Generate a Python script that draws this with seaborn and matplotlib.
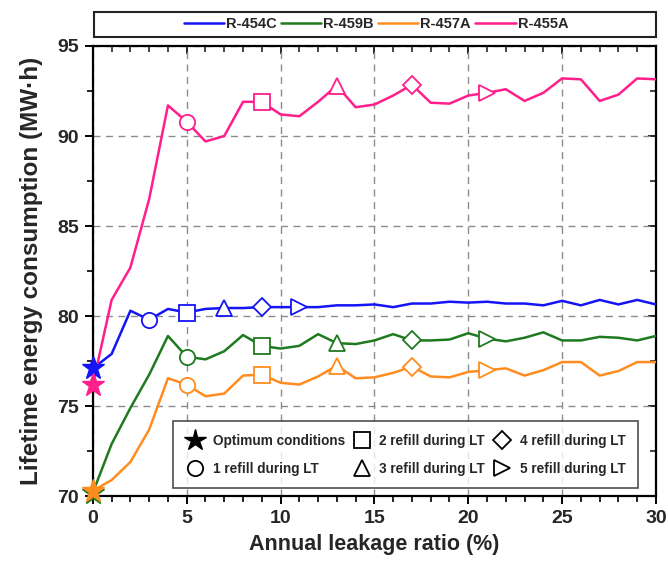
import numpy as np
import pandas as pd
import matplotlib
matplotlib.use("Agg")
import matplotlib.pyplot as plt
from matplotlib.lines import Line2D
from matplotlib.patches import Rectangle
from matplotlib.ticker import MultipleLocator
import seaborn as sns

# ---------------- data ----------------
leak = list(range(31))
r454c = [77.1, 77.9, 80.3, 79.8, 80.4, 80.2, 80.4, 80.45, 80.45, 80.5, 80.5, 80.5, 80.5, 80.6, 80.6,
         80.65, 80.5, 80.7, 80.7, 80.8, 80.75, 80.8, 80.7, 80.7, 80.6, 80.85, 80.6, 80.9, 80.65, 80.9, 80.65]
r459b = [70.2, 72.9, 74.9, 76.75, 78.9, 77.75, 77.6, 78.05, 78.95, 78.35, 78.2, 78.35, 79.0, 78.5, 78.45,
         78.65, 79.0, 78.65, 78.65, 78.7, 79.05, 78.75, 78.6, 78.8, 79.1, 78.65, 78.65, 78.85, 78.8, 78.65, 78.9]
r457a = [70.3, 70.9, 71.9, 73.7, 76.55, 76.2, 75.55, 75.7, 76.7, 76.75, 76.3, 76.2, 76.65, 77.25, 76.55,
         76.6, 76.85, 77.2, 76.65, 76.6, 76.9, 77.0, 77.1, 76.7, 77.0, 77.45, 77.45, 76.7, 76.95, 77.45, 77.45]
r455a = [76.2, 80.9, 82.7, 86.5, 91.7, 90.8, 89.7, 90.0, 91.9, 91.9, 91.2, 91.1, 91.9, 92.8, 91.6,
         91.75, 92.25, 92.85, 91.85, 91.8, 92.25, 92.4, 92.6, 91.95, 92.4, 93.2, 93.15, 91.95, 92.3, 93.2, 93.15]

refrigerants = ["R-454C", "R-459B", "R-457A", "R-455A"]
series = [r454c, r459b, r457a, r455a]
colors = ["#1414F5", "#1F7A1F", "#FF8C1E", "#FF1E8C"]

# leakage ratios at which the n-th refill happens (markers)
refill_x = {
    "R-454C": [3, 5, 7, 9, 11],
    "R-459B": [5, 9, 13, 17, 21],
    "R-457A": [5, 9, 13, 17, 21],
    "R-455A": [5, 9, 13, 17, 21],
}
refill_markers = ["o", "s", "^", "D", ">"]
legend_labels = ["Optimum conditions", "1 refill during LT", "2 refill during LT",
                 "3 refill during LT", "4 refill during LT", "5 refill during LT"]

# ---------------- style ----------------
sns.set_theme(style="ticks")
plt.rcParams["font.family"] = ["Liberation Sans", "DejaVu Sans"]
plt.rcParams["font.weight"] = "bold"
plt.rcParams["axes.labelweight"] = "bold"

fig = plt.figure(figsize=(6.68, 5.75), dpi=100)
ax = fig.add_axes([0.139, 0.137, 0.843, 0.783])

df = pd.DataFrame({
    "leak": leak * len(refrigerants),
    "energy": sum(series, []),
    "ref": sum([[r] * len(leak) for r in refrigerants], []),
})
palette = dict(zip(refrigerants, colors))
sns.lineplot(data=df, x="leak", y="energy", hue="ref", palette=palette,
             legend=False, linewidth=1.8, ax=ax, zorder=3)

# refill markers
for ref, vals, col in zip(refrigerants, series, colors):
    for xs, m in zip(refill_x[ref], refill_markers):
        ax.plot([xs], [vals[xs]], ls="none", marker=m, ms=11 if m != "D" else 9,
                mfc="white", mec=col, mew=1.3, zorder=4)

# optimum stars (drawn so orange/pink lie on top)
for idx in [0, 3, 1, 2]:
    ax.plot([leak[0]], [series[idx][0]], ls="none", marker="*", ms=17,
            color=colors[idx], mec=colors[idx], zorder=6, clip_on=False)

ax.set_xlim(0, 30)
ax.set_ylim(70, 95)
ax.xaxis.set_major_locator(MultipleLocator(5))
ax.xaxis.set_minor_locator(MultipleLocator(1))
ax.yaxis.set_major_locator(MultipleLocator(5))
ax.yaxis.set_minor_locator(MultipleLocator(2.5))
ax.grid(which="major", ls=(0, (5, 4)), color="#8c8c8c", lw=1.0, zorder=0)
for s in ax.spines.values():
    s.set_linewidth(1.6)
    s.set_color("black")
    s.set_visible(True)
ax.tick_params(which="major", direction="out", length=6, width=1.4, labelsize=14, pad=4, color="black")
ax.tick_params(which="minor", direction="out", length=4, width=1.2, color="black")
for lab in ax.get_xticklabels() + ax.get_yticklabels():
    lab.set_fontweight("bold")

# inward ticks on top / right
secx = ax.secondary_xaxis("top")
secx.xaxis.set_major_locator(MultipleLocator(5))
secx.xaxis.set_minor_locator(MultipleLocator(1))
secx.tick_params(which="major", direction="in", length=6, width=1.4, labeltop=False)
secx.tick_params(which="minor", direction="in", length=4, width=1.2)
secy = ax.secondary_yaxis("right")
secy.yaxis.set_major_locator(MultipleLocator(5))
secy.yaxis.set_minor_locator(MultipleLocator(2.5))
secy.tick_params(which="major", direction="in", length=6, width=1.4, labelright=False)
secy.tick_params(which="minor", direction="in", length=4, width=1.2)

ax.set_xlabel("Annual leakage ratio (%)", fontsize=15.5, fontweight="bold")
ax.set_ylabel("Lifetime energy consumption (MW\u00b7h)", fontsize=17.5, fontweight="bold")
ax.xaxis.set_label_coords(0.5, -0.084)
ax.yaxis.set_label_coords(-0.088, 0.5)

# bottom legend (marker meanings)
mk_handles = [Line2D([], [], ls="none", marker="*", ms=16, color="black")]
for m in refill_markers:
    mk_handles.append(Line2D([], [], ls="none", marker=m, ms=11 if m != "D" else 9.5,
                             mfc="white", mec="black", mew=1.3))
leg = ax.legend(mk_handles, legend_labels, ncol=3, loc="lower right",
                bbox_to_anchor=(0.968, 0.018), borderaxespad=0.0,
                frameon=True, fancybox=False, edgecolor="#222222",
                handletextpad=0.6, columnspacing=0.55, borderpad=0.9, labelspacing=1.05,
                handlelength=1.4, prop={"weight": "bold", "size": 9.8})
leg.get_frame().set_linewidth(1.2)
leg.set_zorder(7)

# top legend (refrigerants)
fig.patches.append(Rectangle((94 / 668, 1 - 37 / 575), (656 - 94) / 668, 25 / 575,
                             transform=fig.transFigure, fill=False, edgecolor="#222222", lw=1.5))
ln_handles = [Line2D([], [], color=c, lw=1.8) for c in colors]
fig.legend(ln_handles, refrigerants, ncol=4, loc="center",
           bbox_to_anchor=(376 / 668, 1 - 24.5 / 575), frameon=False,
           handlelength=2.75, handletextpad=0.15, columnspacing=0.3,
           prop={"weight": "bold", "size": 10.5})

fig.savefig("out.png", dpi=100)
